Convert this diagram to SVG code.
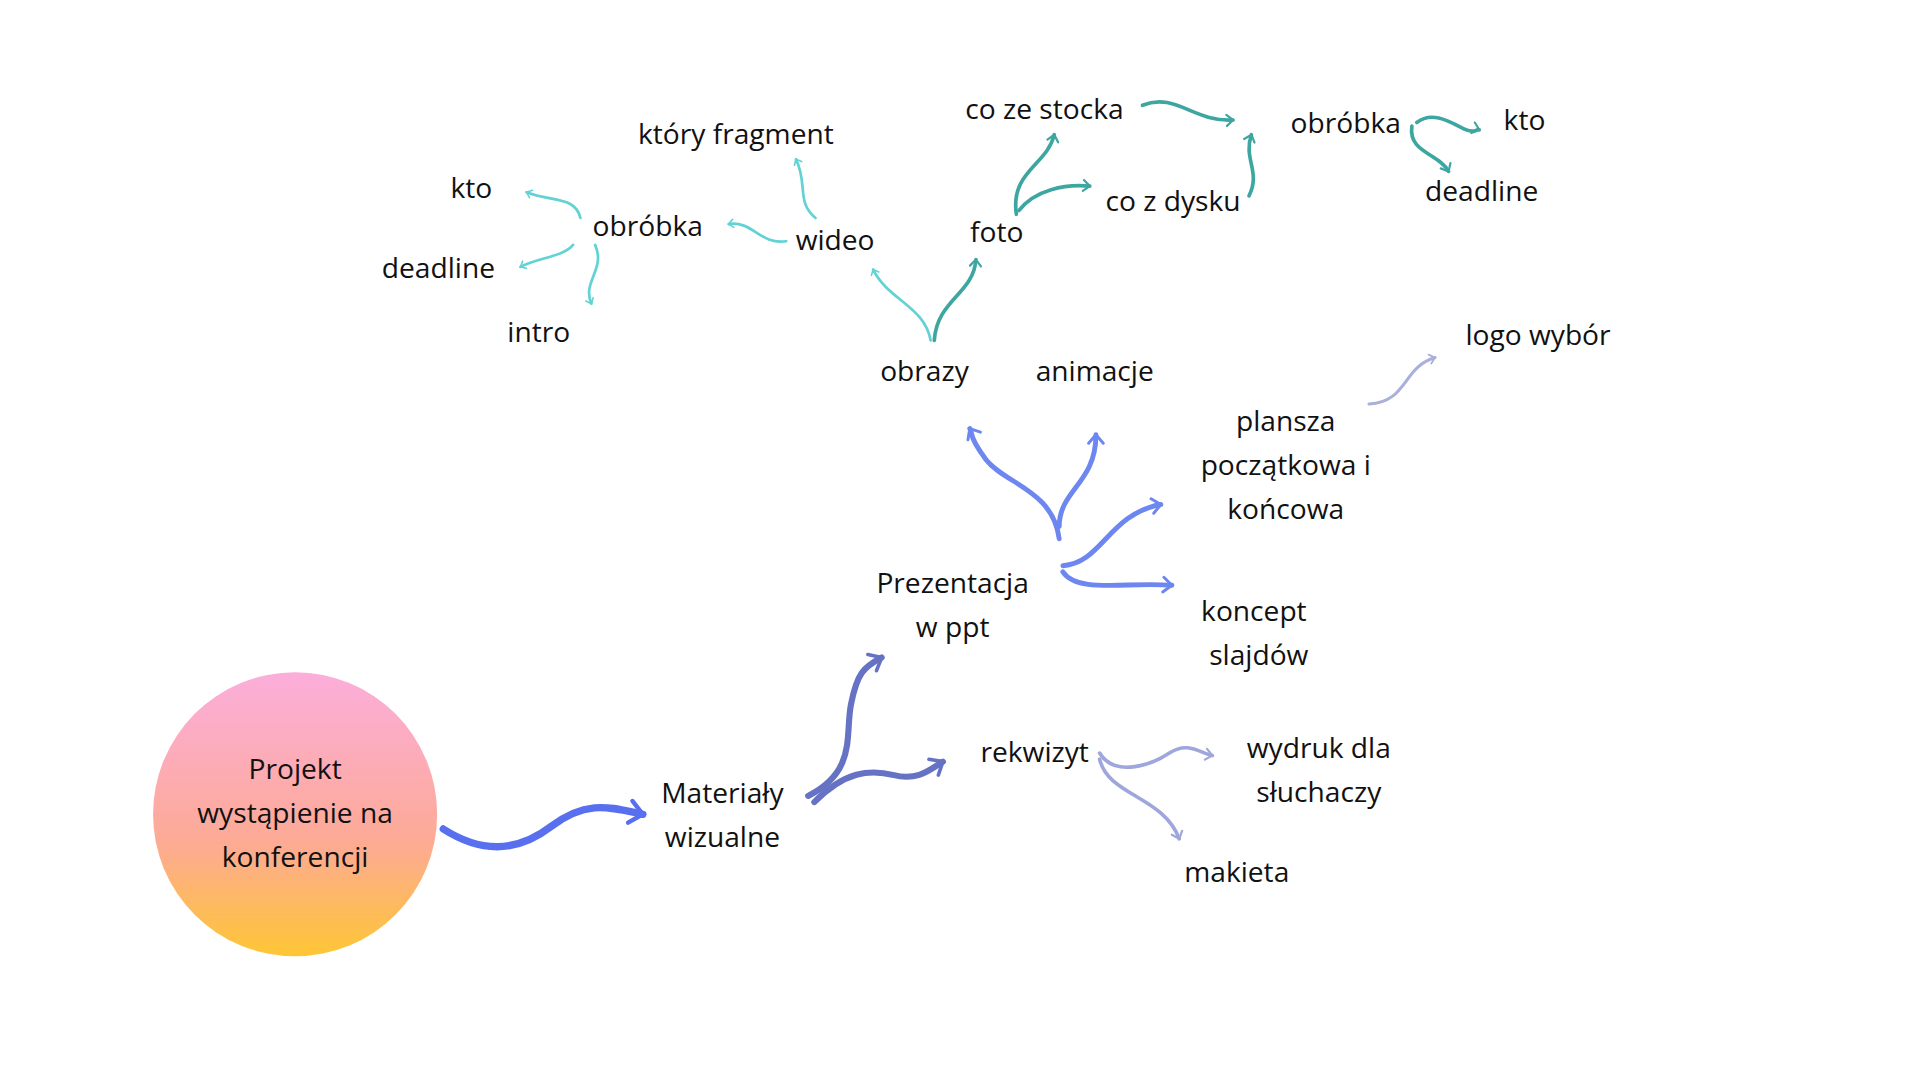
<svg xmlns="http://www.w3.org/2000/svg" width="1920" height="1080" viewBox="0 0 1920 1080">
<style>
text{font-family:"Open Sans","Liberation Sans",sans-serif;font-size:23px;fill:#111;text-anchor:middle}
.c path{fill:none;stroke-linecap:round}
.m{stroke:#5870f0;stroke-width:6}
.d{stroke:#6672c4;stroke-width:5}
.p{stroke:#6d86f0;stroke-width:4}
.r{stroke:#9ea6dc;stroke-width:3}
.l{stroke:#aab0da;stroke-width:2.5}
.t{stroke:#3ea6a0;stroke-width:3}
.y{stroke:#62d2d4;stroke-width:2.2}
</style>
<defs>
<radialGradient id="none"/>
<linearGradient id="g" x1="0" y1="0" x2="0" y2="1"><stop offset="0" stop-color="#fbaedb"/><stop offset="0.6" stop-color="#fdaa95"/><stop offset="1" stop-color="#fec634"/></linearGradient>
<marker id="a" viewBox="-10 -10 20 20" markerWidth="5" markerHeight="5" orient="auto" markerUnits="strokeWidth" refX="0" refY="0"><polyline points="-7,-6 0,0 -7,6" fill="none" stroke="context-stroke" stroke-width="2.4" stroke-linecap="round" stroke-linejoin="round"/></marker>
</defs>
<rect width="1920" height="1080" fill="#fff"/>
<g transform="scale(1.2245)">
<g id="root"><circle cx="241" cy="665" r="116" fill="url(#g)"/>
<text x="241" y="636">Projekt</text><text x="241" y="672">wystąpienie na</text><text x="241" y="708">konferencji</text></g>
<g class="c" id="connectors" marker-end="url(#a)">
<path class="m" d="M362,677 C390,695 420,698 450,675 S500,660 525,665"/>
<path class="d" d="M660,650 C700,630 690,600 695,575 S705,545 720,537"/>
<path class="d" d="M665,655 C690,630 710,628 730,633 S760,628 770,622"/>
<path class="p" d="M865,440 C860,400 820,395 805,375 S795,355 792,350"/>
<path class="p" d="M865,430 C865,400 895,395 895,355"/>
<path class="p" d="M868,462 C900,460 905,420 948,412"/>
<path class="p" d="M868,467 C880,485 920,475 957,478"/>
<path class="r" d="M898,615 C910,635 940,625 955,615 S980,615 990,617"/>
<path class="r" d="M898,620 C905,650 950,650 963,685"/>
<path class="l" d="M1118,330 C1150,328 1145,300 1172,292"/>
<path class="y" d="M760,278 C755,250 725,245 713,220"/>
<path class="t" d="M763,278 C765,245 795,240 797,212"/>
<path class="t" d="M830,175 C825,140 855,135 861,110"/>
<path class="t" d="M832,172 C845,155 870,150 890,152"/>
<path class="t" d="M933,86 C960,75 975,100 1007,98"/>
<path class="t" d="M1020,160 C1030,140 1015,130 1022,110"/>
<path class="t" d="M1157,100 C1170,90 1185,100 1195,105 S1205,105 1208,106"/>
<path class="t" d="M1153,103 C1150,125 1175,125 1183,140"/>
<path class="y" d="M642,197 C620,200 615,180 595,183"/>
<path class="y" d="M666,178 C650,165 660,150 650,130"/>
<path class="y" d="M474,178 C470,160 450,165 430,157"/>
<path class="y" d="M468,200 C460,210 440,210 425,218"/>
<path class="y" d="M486,200 C495,220 475,230 483,248"/>
</g>
<g id="materialy"><text x="590" y="656">Materiały</text><text x="590" y="692">wizualne</text></g>
<g id="prezentacja"><text x="778" y="484">Prezentacja</text><text x="778" y="520">w ppt</text></g>
<g id="rekwizyt"><text x="845" y="622">rekwizyt</text></g>
<g id="wydruk"><text x="1077" y="619">wydruk dla</text><text x="1077" y="655">słuchaczy</text></g>
<g id="makieta"><text x="1010" y="720">makieta</text></g>
<g id="koncept"><text x="1024" y="507">koncept</text><text x="1028" y="543">slajdów</text></g>
<g id="plansza"><text x="1050" y="352">plansza</text><text x="1050" y="388">początkowa i</text><text x="1050" y="424">końcowa</text></g>
<g id="logo"><text x="1256" y="282">logo wybór</text></g>
<g id="obrazy"><text x="755" y="311">obrazy</text></g>
<g id="animacje"><text x="894" y="311">animacje</text></g>
<g id="wideo"><text x="682" y="204">wideo</text></g>
<g id="foto"><text x="814" y="198">foto</text></g>
<g id="fragment"><text x="601" y="118">który fragment</text></g>
<g id="obrobka1"><text x="529" y="193">obróbka</text></g>
<g id="kto1"><text x="385" y="162">kto</text></g>
<g id="deadline1"><text x="358" y="227">deadline</text></g>
<g id="intro"><text x="440" y="279">intro</text></g>
<g id="stock"><text x="853" y="97">co ze stocka</text></g>
<g id="dysk"><text x="958" y="172">co z dysku</text></g>
<g id="obrobka2"><text x="1099" y="109">obróbka</text></g>
<g id="kto2"><text x="1245" y="106">kto</text></g>
<g id="deadline2"><text x="1210" y="164">deadline</text></g>
</g>
</svg>
